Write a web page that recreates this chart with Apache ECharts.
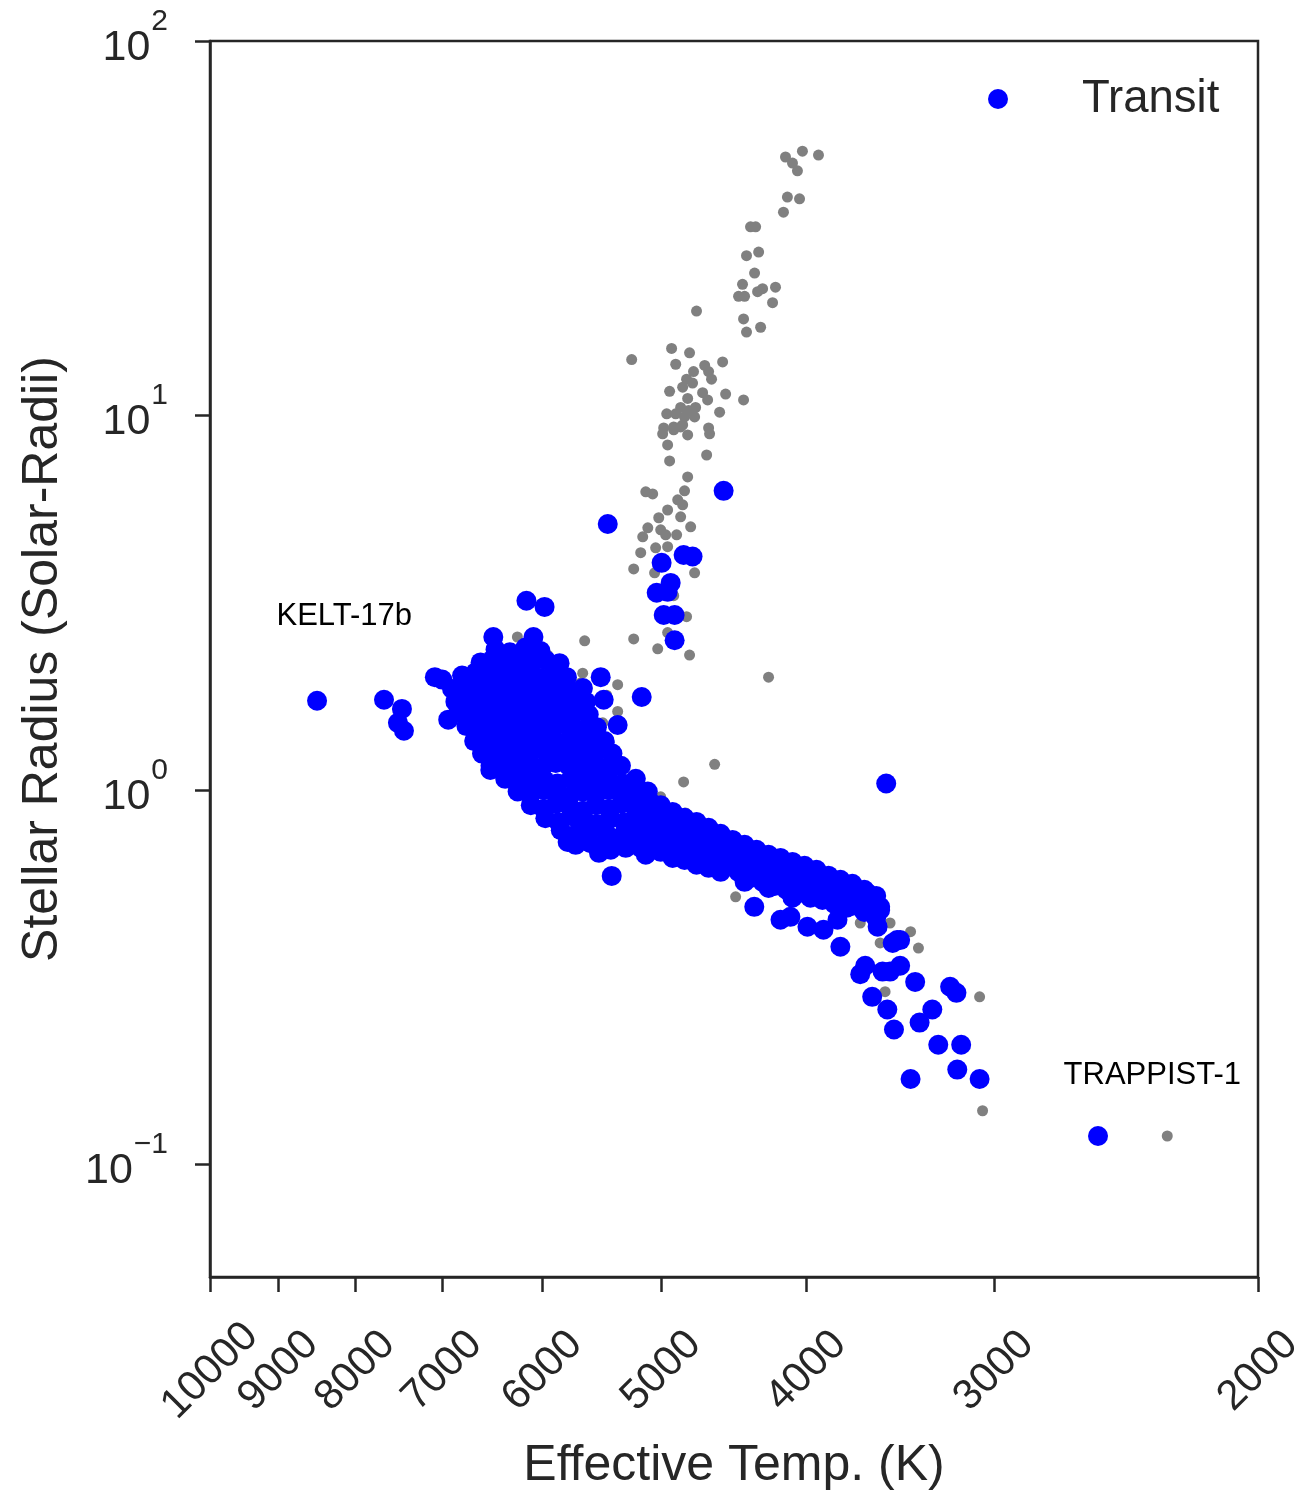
<!DOCTYPE html>
<html><head><meta charset="utf-8">
<script src="https://cdn.jsdelivr.net/npm/echarts@6/dist/echarts.min.js"></script>
<style>html,body{margin:0;padding:0;background:#fff}#chart{width:1296px;height:1492px}</style>
</head><body><div id="chart"></div>
<script>
// Effective temperature (K), stellar radius (solar radii)
const transitStars = [
  [8484,1.73],[7655,1.74],[7447,1.645],[7493,1.51],[7424,1.438],
  [7080,2.00],[7000,1.97],[6936,1.54],[6705,1.93],[6502,1.13],
  [6151,3.20],[5982,3.08],[6472,2.56],[6085,2.56],[5846,2.18],[6057,2.26],
  [5488,2.00],[5463,1.74],[5347,1.49],[5153,1.77],[5455,1.34],
  [5774,0.726],[5396,0.589],[5503,0.679],[5217,1.04],
  [5429,5.13],[4544,6.29],[4998,4.04],[4832,4.24],[4766,4.20],[5036,3.36],[4929,3.57],[4952,3.38],[4982,2.93],[4899,2.93],[4899,2.51],
  [3540,1.04],
  [4335,0.487],[4164,0.450],[4101,0.458],[3995,0.431],[3898,0.423],[3815,0.450],[3798,0.381],[3684,0.322],[3656,0.339],
  [3560,0.327],[3519,0.327],[3465,0.339],[3505,0.390],[3465,0.397],[3386,0.307],[3617,0.280],[3534,0.259],[3498,0.229],
  [3363,0.239],[3298,0.259],[3209,0.298],[3178,0.287],[3268,0.2085],[3155,0.2085],[3174,0.179],[3067,0.169],[3410,0.169],
  [2557,0.119],[3573,0.487],[3587,0.431],[3645,0.531],[3573,0.478],[3481,0.397],
  // F/G dwarf cluster
  [6450,2.37],[6310,2.33],[6160,2.40],[6020,2.35],
  [6600,2.19],[6480,2.23],[6350,2.17],[6230,2.21],[6100,2.18],[5970,2.22],
  [6790,2.02],[6650,2.06],[6520,2.00],[6390,2.04],[6270,2.01],[6140,2.05],[6020,1.99],[5900,2.03],[5780,2.00],
  [6895,1.86],[6760,1.89],[6620,1.85],[6490,1.88],[6360,1.86],[6240,1.90],[6110,1.87],[5990,1.85],[5870,1.88],[5760,1.84],[5640,1.87],
  [6860,1.72],[6725,1.75],[6590,1.71],[6460,1.74],[6335,1.72],[6210,1.76],[6085,1.70],[5965,1.73],[5845,1.75],[5730,1.71],[5615,1.72],
  [6830,1.61],[6695,1.58],[6560,1.62],[6430,1.59],[6305,1.61],[6180,1.58],[6055,1.62],[5935,1.60],[5820,1.57],[5705,1.61],[5590,1.59],
  [6745,1.48],[6615,1.46],[6480,1.49],[6355,1.47],[6225,1.45],[6105,1.48],[5980,1.46],[5865,1.49],[5745,1.47],[5635,1.45],[5520,1.47],
  [6665,1.35],[6530,1.37],[6400,1.36],[6275,1.34],[6150,1.38],[6030,1.35],[5910,1.37],[5790,1.34],[5675,1.36],[5565,1.38],[5455,1.35],
  [6585,1.25],[6450,1.27],[6325,1.24],[6200,1.26],[6075,1.28],[5955,1.25],[5835,1.27],[5720,1.24],[5605,1.26],[5495,1.28],[5390,1.25],
  [6500,1.16],[6375,1.18],[6245,1.15],[6120,1.17],[6000,1.15],[5880,1.18],[5765,1.16],[5650,1.14],[5540,1.17],[5430,1.15],[5320,1.16],
  [6355,1.07],[6225,1.05],[6105,1.08],[5980,1.06],[5865,1.04],[5745,1.07],[5635,1.05],[5520,1.08],[5415,1.06],[5305,1.04],[5200,1.07],
  [6235,0.99],[6115,0.97],[5990,1.00],[5875,0.98],[5755,0.96],[5640,0.99],[5530,0.97],[5420,1.00],[5315,0.98],[5210,0.96],[5105,0.99],
  [6110,0.91],[5990,0.89],[5875,0.92],[5755,0.90],[5640,0.88],[5530,0.91],[5420,0.89],[5315,0.92],[5210,0.90],[5105,0.88],[5005,0.91],
  [5975,0.84],[5855,0.82],[5740,0.85],[5625,0.83],[5515,0.81],[5405,0.84],[5295,0.82],[5195,0.85],[5090,0.83],[4990,0.81],[4890,0.84],
  [5835,0.78],[5705,0.76],[5575,0.79],[5445,0.77],[5320,0.75],[5200,0.78],[5080,0.76],[4965,0.79],[4855,0.77],
  [5575,0.72],[5445,0.71],[5320,0.73],[5160,0.70],[5005,0.72],[4855,0.71],[4705,0.73],
  [5703,0.713],[5404,0.692],[5241,0.735],[5121,0.671],[5281,0.700],
  // K/M dwarf band
  [5097,0.940],[5097,0.821],[5097,0.713],
  [5005,0.895],[5005,0.782],[5005,0.683],
  [4914,0.873],[4914,0.759],[4914,0.658],
  [4825,0.842],[4825,0.735],[4825,0.650],
  [4737,0.821],[4737,0.713],[4737,0.631],
  [4650,0.792],[4650,0.692],[4650,0.619],
  [4565,0.763],[4565,0.671],[4565,0.604],
  [4482,0.735],[4482,0.650],
  [4400,0.713],[4400,0.627],[4400,0.568],
  [4320,0.692],[4320,0.612],
  [4241,0.671],[4241,0.593],[4241,0.547],
  [4164,0.658],[4164,0.575],
  [4088,0.642],[4088,0.561],[4088,0.515],
  [4013,0.627],[4013,0.547],
  [3940,0.612],[3940,0.534],
  [3868,0.590],[3868,0.521],
  [3798,0.575],[3798,0.508],
  [3729,0.561],[3729,0.490],
  [3661,0.541],[3661,0.472],
  [3595,0.521],[3595,0.455],
  [5044,0.744],[4959,0.713],[4959,0.832],[4869,0.692],[4869,0.807],
  [4780,0.772],[4780,0.683],[4693,0.759],[4693,0.658],[4607,0.727],[4607,0.642],
  [4523,0.700],[4523,0.627],[4441,0.683],[4441,0.604],[4360,0.662],[4360,0.582],
  [4280,0.642],[4280,0.568],[4202,0.627],[4202,0.554],[4126,0.612],[4126,0.541],
  [4050,0.593],[4050,0.531],[3977,0.582],[3977,0.515],[3904,0.568],[3904,0.508],
  [3833,0.554],[3833,0.496],[3763,0.541],[3763,0.484],[3695,0.527],[3628,0.508]
];
const otherStars = [
  [4026,50.8],[3928,49.6],[4132,49.0],[4088,47.2],[4057,45.0],[4120,38.3],[4044,37.9],[4145,34.9],
  [4360,31.9],[4326,31.9],[4387,26.7],[4306,27.3],[4333,24.0],[4414,22.4],[4441,20.8],[4400,20.8],
  [4313,21.4],[4280,21.8],[4196,22.0],[4215,20.0],[4407,18.1],[4293,17.2],[4387,16.7],[4737,19.0],
  [4922,15.1],[4788,14.7],[5233,14.1],[4891,13.7],[4678,13.6],[4551,13.9],[4650,13.1],[4759,13.1],
  [4810,12.5],[4839,11.9],[4766,12.2],[4629,12.5],[4937,11.6],[4693,11.5],[4530,11.4],[4657,11.0],
  [4407,11.0],[4802,11.1],[4744,10.5],[4795,10.3],[4854,10.5],[4959,10.1],[4891,10.1],[4825,9.91],
  [4751,9.91],[4572,10.2],[4906,9.32],[4839,9.43],[4650,9.26],[4982,9.26],[4990,8.93],[4906,9.15],
  [4854,9.32],[4802,8.87],[4643,8.93],[4952,8.34],[4937,7.56],[4664,7.84],[4802,6.85],[4825,6.29],
  [5121,6.25],[5067,6.17],[4876,5.95],[4839,5.77],[4952,5.59],[5020,5.33],[4854,5.36],[4780,5.04],
  [5105,5.01],[5145,4.74],[5005,4.95],[4967,4.80],[4884,4.80],[5044,4.43],[4952,4.46],[5161,4.30],
  [5217,3.89],[5052,3.80],[4751,3.80],[4906,3.30],[4810,2.90],[4952,2.63],[5217,2.53],[5028,2.38],
  [4788,2.29],[5625,2.50],[6237,2.56],[5955,2.29],[5642,2.05],[5347,1.91],[5660,1.93],[5347,1.62],
  [5471,1.51],[5438,1.79],[4241,2.00],[4607,1.17],[4832,1.05],[5005,0.958],[5185,0.958],[4817,0.868],
  [4407,0.713],[4461,0.518],[3684,0.441],[3519,0.441],[3410,0.418],[3369,0.378],[3573,0.390],
  [3546,0.289],[3067,0.280],[3053,0.139],[2299,0.119]
];
const xTickValues = [2000,3000,4000,5000,6000,7000,8000,9000,10000];
const yTickValues = [0.1,1,10,100];
const annotations = [
  {text:'KELT-17b', coord:[9036,2.90]},
  {text:'TRAPPIST-1', coord:[2698,0.173]}
];

const FONT = "'Liberation Sans', Arial, Helvetica, sans-serif";
const INK = '#262626';
const chart = echarts.init(document.getElementById('chart'), null, {renderer:'canvas'});
chart.setOption({
  backgroundColor:'#fff',
  animation:false,
  textStyle:{fontFamily:FONT},
  grid:{left:210, top:41, right:38, bottom:215, show:true, borderColor:INK, borderWidth:2.5, containLabel:false, outerBoundsMode:'none'},
  legend:{
    data:['Transit'], left:988, top:76, padding:0,
    itemWidth:20, itemHeight:20, icon:'circle',
    textStyle:{fontSize:45.5, color:INK, fontFamily:FONT, lineHeight:46, padding:[0,0,0,69]}
  },
  xAxis:{
    type:'log', logBase:10, min:2000, max:10000, inverse:true,
    name:'Effective Temp. (K)', nameLocation:'middle', nameGap:164, nameMoveOverlap:false,
    nameTextStyle:{fontSize:50, color:INK, fontFamily:FONT},
    axisLine:{show:true, lineStyle:{color:INK, width:2.5}},
    axisTick:{show:true, length:15, lineStyle:{color:INK, width:2.5}, customValues:xTickValues},
    minorTick:{show:false},
    splitLine:{show:false},
    axisLabel:{customValues:xTickValues, rotate:45, align:'center', verticalAlign:'middle', margin:94,
      fontSize:42, color:INK, fontFamily:FONT, formatter:v=>String(Math.round(v)), hideOverlap:false}
  },
  yAxis:{
    type:'log', logBase:10, min:0.05, max:100,
    name:'Stellar Radius (Solar-Radii)', nameLocation:'middle', nameGap:142, nameMoveOverlap:false,
    nameTextStyle:{fontSize:50, color:INK, fontFamily:FONT},
    axisLine:{show:true, lineStyle:{color:INK, width:2.5}},
    axisTick:{show:true, length:15, lineStyle:{color:INK, width:2.5}, customValues:yTickValues},
    minorTick:{show:false},
    splitLine:{show:false},
    axisLabel:{customValues:yTickValues, margin:42, color:INK, fontFamily:FONT, padding:[14,0,0,0],
      formatter:v=>{const e=Math.round(Math.log10(v)); return '{b|10}{s|'+(e<0?'\u2212'+(-e):e)+'}';},
      rich:{
        b:{fontSize:43, lineHeight:43, verticalAlign:'bottom', color:INK, fontFamily:FONT},
        s:{fontSize:30, lineHeight:30, verticalAlign:'bottom', padding:[0,0,33,1], color:INK, fontFamily:FONT}
      }
    }
  },
  series:[
    {name:'other', type:'scatter', data:otherStars, symbol:'circle', symbolSize:11,
      itemStyle:{color:'#808080', opacity:1}, silent:true, z:2},
    {name:'Transit', type:'scatter', data:transitStars, symbol:'circle', symbolSize:20,
      itemStyle:{color:'#0000ff', opacity:1}, silent:true, z:3,
      markPoint:{
        symbol:'circle', symbolSize:1, itemStyle:{color:'rgba(0,0,0,0)'}, silent:true,
        label:{show:true, position:'right', distance:0, fontSize:31, color:'#000', fontFamily:FONT,
          formatter:p=>p.name},
        data:annotations.map(a=>({name:a.text, coord:a.coord}))
      }
    }
  ]
});
</script>
</body></html>
